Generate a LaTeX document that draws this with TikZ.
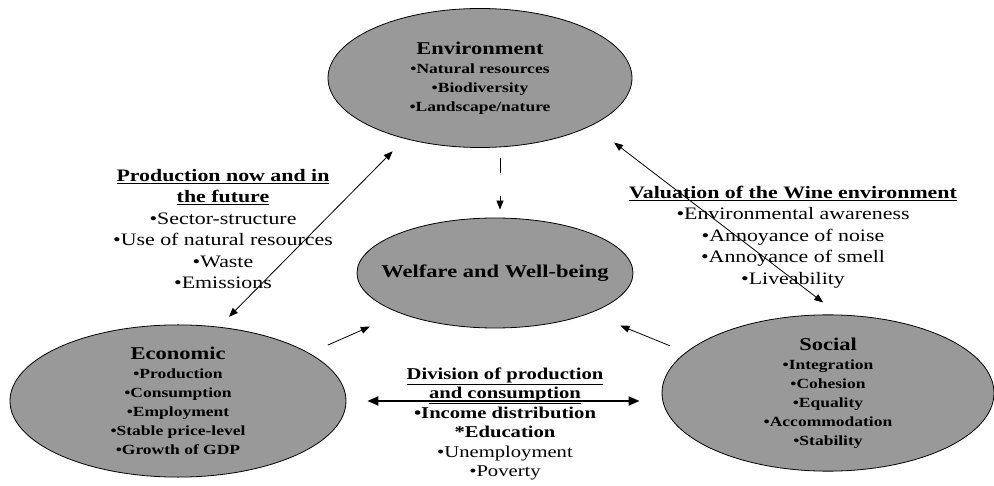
\documentclass[tikz,border=0pt]{standalone}
\usepackage{fontspec}
\setmainfont{Liberation Serif}[FakeStretch=1.25]
\usetikzlibrary{shapes.geometric,arrows.meta}

\begin{document}
\begin{tikzpicture}[x=1pt,y=-1pt,
    >={Triangle[length=9pt,width=7pt]},
    sphere/.style={ellipse, draw, thick, fill=gray!80, inner sep=0pt, align=center,
      font=\bfseries\fontsize{14}{19}\selectfont},
    theme/.style={align=center, inner sep=0pt, font=\fontsize{17.5}{21.5}\selectfont},
    link/.style={line width=0.8pt}]
\useasboundingbox (0,0) rectangle (994,486);

% Spheres
\node[sphere, minimum width=304pt, minimum height=139pt] (env) at (480,78)
  {{\fontsize{18}{19}\selectfont Environment}\\•Natural resources\\•Biodiversity\\•Landscape/nature};
\node[sphere, minimum width=276pt, minimum height=110pt] (welfare) at (495,273)
  {\makebox[150pt][c]{\fontsize{18}{19}\selectfont Welfare and Well-being}};
\node[sphere, minimum width=336pt, minimum height=128pt] (eco) at (178,401)
  {{\fontsize{18}{19}\selectfont Economic}\\•Production\\•Consumption\\•Employment\\•Stable price-level\\•Growth of GDP};
\node[sphere, minimum width=332pt, minimum height=126pt] (social) at (828,393)
  {{\fontsize{18}{19}\selectfont Social}\\•Integration\\•Cohesion\\•Equality\\•Accommodation\\•Stability};

% Themes
\node[theme] (prod) at (223,229)
  {\underline{\textbf{Production now and in}}\\\underline{\textbf{the future}}\\•Sector-structure\\•Use of natural resources\\•Waste\\•Emissions};
\node[theme] (valuation) at (793,237)
  {\underline{\textbf{Valuation of the Wine environment}}\\•Environmental awareness\\•Annoyance of noise\\•Annoyance of smell\\•Liveability};
\node[theme, font=\fontsize{16.5}{19.5}\selectfont] (division) at (505,424)
  {\underline{\textbf{Division of production}}\\\underline{\textbf{and consumption}}\\\textbf{•Income distribution}\\\textbf{*Education}\\•Unemployment\\•Poverty};

% Links
\draw[link, <->, shorten <=14pt, shorten >=17.5pt] (eco.61) -- (env.219);
\draw[link, <->, shorten <=20pt, shorten >=28pt] (social.82) -- (env.337);
\draw[link, ->, shorten <=10pt, shorten >=8pt, dash pattern=on 15pt off 23pt on 40pt]
  ([xshift=20pt]env.south) -- ([xshift=5pt]welfare.north);
\draw[link, ->, shorten <=20pt, shorten >=33pt] (eco.20) -- (welfare.203);
\draw[link, ->, shorten <=17pt, shorten >=33pt] (social.164) -- (welfare.337);
\draw[line width=2pt, <->, >={Triangle[length=11pt,width=9pt]}, shorten <=21pt, shorten >=22pt]
  (eco.east) -- (eco.east -| social.west);

\end{tikzpicture}
\end{document}
